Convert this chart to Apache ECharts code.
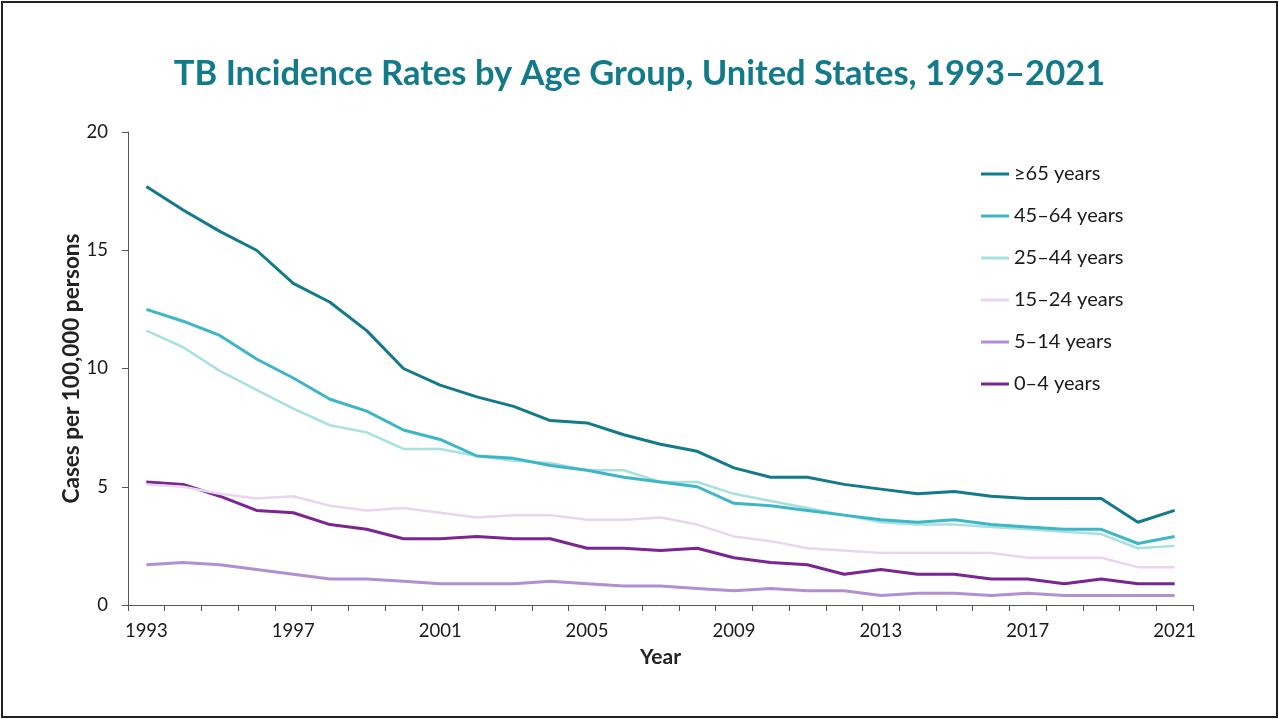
<!DOCTYPE html>
<html>
<head>
<meta charset="utf-8">
<title>TB Incidence Rates by Age Group</title>
<script src="https://cdn.jsdelivr.net/npm/echarts@6/dist/echarts.min.js"></script>
<style>
  html, body { margin: 0; padding: 0; background: #fff; }
  #frame { position: absolute; left: 1px; top: 1px; width: 1273px; height: 713px; border: 2px solid #222; box-sizing: content-box; }
  #chart { position: absolute; left: 0; top: 0; width: 1279px; height: 719px; }
</style>
</head>
<body>
<div id="chart"></div>
<div id="frame"></div>
<script>
// Years on the category axis
const years = ['1993','1994','1995','1996','1997','1998','1999','2000','2001','2002',
  '2003','2004','2005','2006','2007','2008','2009','2010','2011','2012',
  '2013','2014','2015','2016','2017','2018','2019','2020','2021'];

// Cases per 100,000 persons, by age group
const age65plus = [17.7, 16.7, 15.8, 15.0, 13.6, 12.8, 11.6, 10.0, 9.3, 8.8,
  8.4, 7.8, 7.7, 7.2, 6.8, 6.5, 5.8, 5.4, 5.4, 5.1,
  4.9, 4.7, 4.8, 4.6, 4.5, 4.5, 4.5, 3.5, 4.0];
const age45to64 = [12.5, 12.0, 11.4, 10.4, 9.6, 8.7, 8.2, 7.4, 7.0, 6.3,
  6.2, 5.9, 5.7, 5.4, 5.2, 5.0, 4.3, 4.2, 4.0, 3.8,
  3.6, 3.5, 3.6, 3.4, 3.3, 3.2, 3.2, 2.6, 2.9];
const age25to44 = [11.6, 10.9, 9.9, 9.1, 8.3, 7.6, 7.3, 6.6, 6.6, 6.3,
  6.1, 6.0, 5.7, 5.7, 5.2, 5.2, 4.7, 4.4, 4.1, 3.8,
  3.5, 3.4, 3.4, 3.3, 3.2, 3.1, 3.0, 2.4, 2.5];
const age15to24 = [5.1, 5.0, 4.7, 4.5, 4.6, 4.2, 4.0, 4.1, 3.9, 3.7,
  3.8, 3.8, 3.6, 3.6, 3.7, 3.4, 2.9, 2.7, 2.4, 2.3,
  2.2, 2.2, 2.2, 2.2, 2.0, 2.0, 2.0, 1.6, 1.6];
const age5to14 = [1.7, 1.8, 1.7, 1.5, 1.3, 1.1, 1.1, 1.0, 0.9, 0.9,
  0.9, 1.0, 0.9, 0.8, 0.8, 0.7, 0.6, 0.7, 0.6, 0.6,
  0.4, 0.5, 0.5, 0.4, 0.5, 0.4, 0.4, 0.4, 0.4];
const age0to4 = [5.2, 5.1, 4.6, 4.0, 3.9, 3.4, 3.2, 2.8, 2.8, 2.9,
  2.8, 2.8, 2.4, 2.4, 2.3, 2.4, 2.0, 1.8, 1.7, 1.3,
  1.5, 1.3, 1.3, 1.1, 1.1, 0.9, 1.1, 0.9, 0.9];

const groupNames = ['≥65 years', '45–64 years', '25–44 years', '15–24 years', '5–14 years', '0–4 years'];
const groupValues = [age65plus, age45to64, age25to44, age15to24, age5to14, age0to4];
const groupColors = ['#127a8a', '#3db6c7', '#a8e0e0', '#e9d5ee', '#b28fd2', '#7a2592'];
const groupWidths = [3, 3, 2.5, 2.5, 3, 3];

const yTicks = { min: 0, max: 20, interval: 5 };
const FONT = 'Lato, "Open Sans", sans-serif';

const chart = echarts.init(document.getElementById('chart'), null, { renderer: 'canvas' });

// Draw the youngest groups first so the older groups sit on top
const series = groupNames.map((name, i) => ({
  name: name,
  type: 'line',
  data: groupValues[i],
  symbol: 'none',
  smooth: false,
  z: 10 - i,
  lineStyle: { color: groupColors[i], width: groupWidths[i] },
  itemStyle: { color: groupColors[i] }
}));

chart.setOption({
  backgroundColor: '#ffffff',
  animation: false,
  title: {
    text: 'TB Incidence Rates by Age Group, United States, 1993–2021',
    left: 'center',
    top: 51,
    textStyle: { color: '#127a8a', fontSize: 34.5, fontWeight: 'bold', fontFamily: FONT }
  },
  legend: {
    orient: 'vertical',
    left: 976,
    top: 158,
    icon: 'rect',
    itemWidth: 28,
    itemHeight: 3,
    itemGap: 20,
    data: groupNames,
    textStyle: { color: '#1a1a1a', fontSize: 20, fontFamily: FONT, lineHeight: 22, padding: [0, 0, 0, 0] }
  },
  grid: { left: 128, right: 86, top: 132, bottom: 114, containLabel: false },
  xAxis: {
    type: 'category',
    data: years,
    boundaryGap: true,
    name: 'Year',
    nameLocation: 'middle',
    nameGap: 42,
    nameMoveOverlap: false,
    nameTextStyle: { color: '#222', fontSize: 21, fontWeight: 'bold', fontFamily: FONT },
    axisLine: { lineStyle: { color: '#555', width: 1 } },
    axisTick: { show: true, interval: 0, alignWithLabel: false, length: 6, lineStyle: { color: '#555' } },
    axisLabel: { interval: 3, color: '#1a1a1a', fontSize: 18.5, fontFamily: FONT, margin: 17 },
    splitLine: { show: false }
  },
  yAxis: {
    type: 'value',
    min: yTicks.min,
    max: yTicks.max,
    interval: yTicks.interval,
    name: 'Cases per 100,000 persons',
    nameLocation: 'middle',
    nameGap: 45,
    nameMoveOverlap: false,
    nameTextStyle: { color: '#222', fontSize: 22.5, fontWeight: 'bold', fontFamily: FONT },
    axisLine: { show: true, lineStyle: { color: '#555', width: 1 } },
    axisTick: { show: true, length: 6, lineStyle: { color: '#555' } },
    axisLabel: { color: '#1a1a1a', fontSize: 18.5, fontFamily: FONT, margin: 20 },
    splitLine: { show: false }
  },
  series: series
});
</script>
</body>
</html>
